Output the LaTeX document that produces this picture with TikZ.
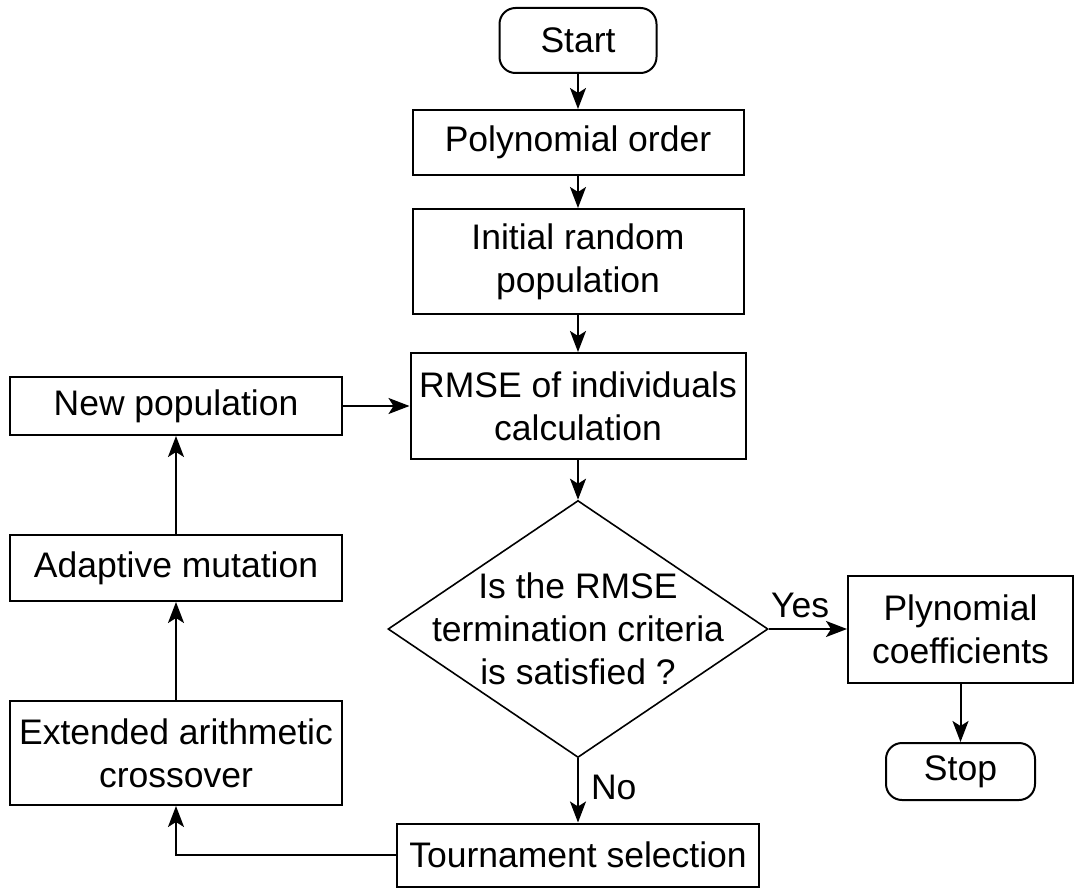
\documentclass[tikz,border=0pt]{standalone}
\usepackage{fontspec}
\setmainfont{Liberation Sans}
\usetikzlibrary{shapes.geometric,arrows.meta}
\begin{document}
\begin{tikzpicture}[x=1pt,y=-1pt,
  every node/.style={font=\fontsize{35.5}{43}\selectfont, align=center, inner sep=0pt},
  box/.style={draw, line width=2pt, rectangle},
  term/.style={draw, line width=2pt, rectangle, rounded corners=16pt},
  dec/.style={draw, line width=1.6pt, diamond},
  arr/.style={line width=2pt, -{Stealth[length=21pt,width=16pt,inset=5pt]}},
  lbl/.style={}
]
\useasboundingbox (0,0) rectangle (1076,888);
\node[term, minimum width=157pt, minimum height=65pt] (start) at (578,40.5) {Start};
\node[box, minimum width=331pt, minimum height=65pt] (poly) at (578,142.5) {Polynomial order};
\node[box, minimum width=331pt, minimum height=105pt] (init) at (578,261.5) {Initial random\\population};
\node[box, minimum width=335pt, minimum height=106pt] (rmse) at (578,406) {RMSE of individuals\\calculation};
\node[dec, minimum width=380pt, minimum height=257pt] (dec) at (578,629) {};
\node (dtext) at (578,629) {Is the RMSE\\termination criteria\\is satisfied ?};
\node[box, minimum width=225pt, minimum height=107pt] (coef) at (960.5,629) {Plynomial\\coefficients};
\node[term, minimum width=149pt, minimum height=57pt] (stop) at (960.5,771.5) {Stop};
\node[box, minimum width=362pt, minimum height=63pt] (tour) at (578,855) {Tournament selection};
\node[box, minimum width=332pt, minimum height=104pt] (ext) at (176,753) {Extended arithmetic\\crossover};
\node[box, minimum width=332pt, minimum height=66pt] (adapt) at (176,568) {Adaptive mutation};
\node[box, minimum width=332pt, minimum height=58pt] (newpop) at (176,406) {New population};
\draw[arr] (start) -- (poly);
\draw[arr] (poly) -- (init);
\draw[arr] (init) -- (rmse);
\draw[arr] (rmse) -- (dec.north);
\draw[arr] (dec.east) -- (coef.west) node[lbl, pos=0.4, above=10pt] (yes) {Yes};
\draw[arr] (coef) -- (stop);
\draw[arr] (dec.south) -- (tour.north) node[lbl, pos=0.45, right=12pt] (no) {No};
\draw[arr] (tour.west) -| (ext.south);
\draw[arr] (ext) -- (adapt);
\draw[arr] (adapt) -- (newpop);
\draw[arr] (newpop) -- (rmse);
\end{tikzpicture}
\end{document}
